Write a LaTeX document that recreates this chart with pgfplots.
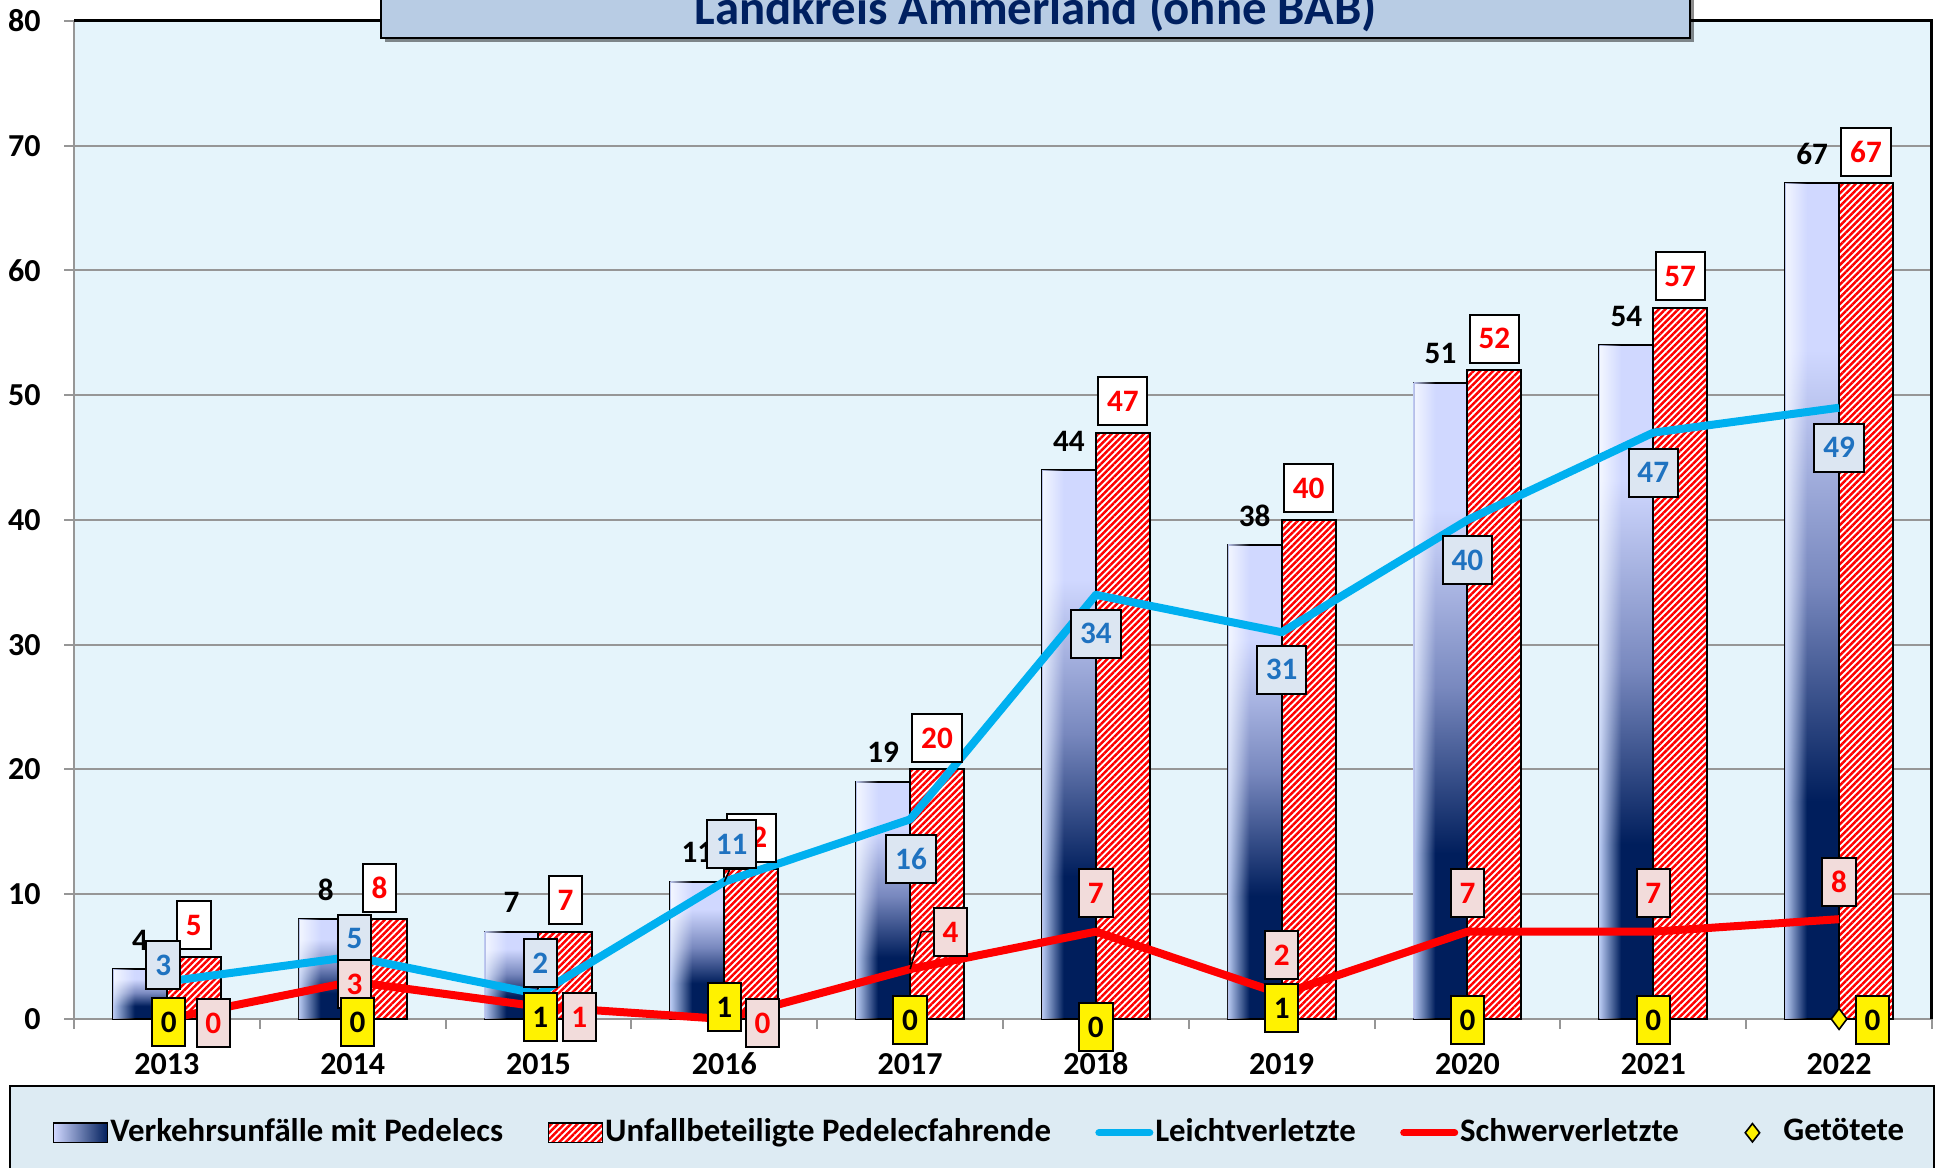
\documentclass[border=0pt]{standalone}
\usepackage{pgfplots}
\pgfplotsset{compat=1.18}
\usepackage{fontspec}
\setmainfont{Carlito}
\usetikzlibrary{patterns.meta,shadows}
\definecolor{bgblue}{RGB}{229,244,251}
\definecolor{barlight}{RGB}{208,216,255}
\definecolor{barmid}{RGB}{120,136,190}
\definecolor{navy}{RGB}{0,30,92}
\definecolor{glow}{RGB}{185,195,235}
\definecolor{lineblue}{RGB}{0,176,240}
\definecolor{labblue}{RGB}{31,114,192}
\definecolor{labblueb}{RGB}{220,230,242}
\definecolor{labpink}{RGB}{242,220,219}
\definecolor{titlebg}{RGB}{184,204,228}
\definecolor{titletext}{RGB}{0,32,96}
\definecolor{legbg}{RGB}{221,235,243}
\definecolor{gridgray}{RGB}{150,150,150}
\pgfdeclareverticalshading{barv}{100bp}{%
  color(0bp)=(navy); color(25bp)=(navy); color(38bp)=(navy); color(51bp)=(barmid); color(65bp)=(barlight); color(100bp)=(barlight)}
\pgfdeclarehorizontalshading{leftglow}{100bp}{%
  color(0bp)=(glow); color(25bp)=(glow); color(31bp)=(glow!70!black); color(45bp)=(black); color(100bp)=(black)}
\newcommand\lf{\bfseries\fontsize{7.8}{9}\selectfont}
\tikzset{
  lbox/.style={draw=black, line width=0.5pt, fill=labblueb, text=labblue, font=\lf, minimum height=12pt, inner xsep=2.2pt, inner ysep=0pt},
  sbox/.style={draw=black, line width=0.5pt, fill=labpink, text=red, font=\lf, minimum height=12pt, inner xsep=2.2pt, inner ysep=0pt},
  gbox/.style={draw=black, line width=0.5pt, fill=yellow, text=black, font=\lf, minimum height=12pt, inner xsep=2.2pt, inner ysep=0pt},
  redhatch/.style={fill=white, postaction={pattern={Lines[angle=45,distance=1.15pt,line width=0.62pt]}, pattern color=red}},
}
\pgfplotsset{
  bluebar/.style={ybar, bar width=0.29, bar shift=-0.145, draw=black, line width=0.5pt,
    shade, shading=barv, shading angle=0,
    postaction={shade, shading=leftglow, shading angle=0, blend mode=screen},
    nodes near coords, every node near coord/.append style={font=\lf, text=black, anchor=center, xshift=-6.74pt, yshift=7.3pt},
    forget plot},
}
\begin{document}
\begin{tikzpicture}
\draw[fill=legbg, line width=0.6pt] (2.5pt,20.5pt) rectangle (483.5pt,-10pt);
\begin{axis}[
  set layers=standard,
  at={(18.5pt,37.25pt)}, anchor=south west,
  scale only axis, width=464.5pt, height=249.5pt,
  xmin=-0.5, xmax=9.5, ymin=0, ymax=80,
  clip=false,
  /pgf/number format/assume math mode=true,
  axis background/.style={fill=bgblue},
  axis line style={gridgray, line width=0.5pt},
  ymajorgrids, grid style={gridgray, line width=0.5pt},
  xtick={0,...,9},
  xticklabels={2013,2014,2015,2016,2017,2018,2019,2020,2021,2022},
  ytick={0,10,...,80},
  minor xtick={-0.5,0.5,...,9.5},
  minor ytick={0,10,...,80},
  major tick length=0pt, minor tick length=2.5pt,
  tick align=outside, xtick pos=bottom, ytick pos=left,
  tick style={gridgray, line width=0.5pt},
  ticklabel style={font=\bfseries\fontsize{8}{9}\selectfont},
  xticklabel style={yshift=-5.2pt, text height=5.2pt, text depth=0pt},
  yticklabel style={xshift=-4.8pt},
  legend columns=5,
  legend style={at={(axis description cs:-0.0118,-0.114)}, anchor=west, draw=none, fill=none, inner sep=0pt,
    font=\bfseries\fontsize{8.2}{10}\selectfont,
    /tikz/every even column/.append style={column sep=10.6pt},
    nodes={inner sep=0.5pt}},
]
% Verkehrsunfaelle mit Pedelecs (one plot per bar, so that each bar gets its own gradient)
\addplot[bluebar] coordinates {(0,4)};
\addplot[bluebar] coordinates {(1,8)};
\addplot[bluebar] coordinates {(2,7)};
\addplot[bluebar] coordinates {(3,11)};
\addplot[bluebar] coordinates {(4,19)};
\addplot[bluebar] coordinates {(5,44)};
\addplot[bluebar] coordinates {(6,38)};
\addplot[bluebar] coordinates {(7,51)};
\addplot[bluebar] coordinates {(8,54)};
\addplot[bluebar] coordinates {(9,67)};
% Unfallbeteiligte Pedelecfahrende
\addplot[ybar, bar width=0.29, bar shift=0.145, draw=black, line width=0.5pt, redhatch,
  nodes near coords, every node near coord/.append style={font=\lf, text=red, draw=black, line width=0.5pt, fill=white, minimum height=12pt, inner xsep=2.2pt, inner ysep=0pt, anchor=center, xshift=6.74pt, yshift=7.9pt},
  forget plot]
  coordinates {(0,5) (1,8) (2,7) (3,12) (4,20) (5,47) (6,40) (7,52) (8,57) (9,67)};
% Leichtverletzte
\addplot[lineblue, line width=2pt, line join=round, forget plot]
  coordinates {(0,3) (1,5) (2,2) (3,11) (4,16) (5,34) (6,31) (7,40) (8,47) (9,49)};
% Schwerverletzte
\addplot[red, line width=2pt, line join=round, forget plot]
  coordinates {(0,0) (1,3) (2,1) (3,0) (4,4) (5,7) (6,2) (7,7) (8,7) (9,8)};
% Getoetete
\addplot[only marks, mark=diamond*, mark size=2.6pt, mark options={fill=yellow, draw=black, line width=0.4pt}, forget plot]
  coordinates {(0,0) (1,0) (2,1) (3,1) (4,0) (5,0) (6,1) (7,0) (8,0) (9,0)};
% plot area border top/right
\draw[black, line width=0.75pt] (rel axis cs:0,1) -- (rel axis cs:1,1) -- (rel axis cs:1,0);
\begin{pgfonlayer}{axis foreground}
% leader lines
\draw[black, line width=0.4pt] (axis cs:4,4) -- (axis cs:4.06,7.0) -- (axis cs:4.13,7.0);
\draw[black, line width=0.4pt] (axis cs:3,11) -- (axis cs:3.03,12);
% labels Leichtverletzte
\node[lbox] at (axis cs:-0.02,4.33) {3};
\node[lbox] at (axis cs:1.01,6.45) {5};
\node[lbox] at (axis cs:2.01,4.49) {2};
\node[lbox] at (axis cs:3.04,13.99) {11};
\node[lbox] at (axis cs:4.005,12.83) {16};
\node[lbox] at (axis cs:5.0,30.9) {34};
\node[lbox] at (axis cs:6.0,28.0) {31};
\node[lbox] at (axis cs:7.0,36.8) {40};
\node[lbox] at (axis cs:8.0,43.8) {47};
\node[lbox] at (axis cs:9.0,45.8) {49};
% labels Schwerverletzte
\node[sbox] at (axis cs:0.25,-0.36) {0};
\node[sbox] at (axis cs:1.01,2.8) {3};
\node[sbox] at (axis cs:2.22,0.12) {1};
\node[sbox] at (axis cs:3.206,-0.36) {0};
\node[sbox] at (axis cs:4.217,6.97) {4};
\node[sbox] at (axis cs:5.0,10.1) {7};
\node[sbox] at (axis cs:6.0,5.09) {2};
\node[sbox] at (axis cs:7.0,10.1) {7};
\node[sbox] at (axis cs:8.0,10.1) {7};
\node[sbox] at (axis cs:9.0,11.0) {8};
% labels Getoetete
\node[gbox] at (axis cs:0.01,-0.24) {0};
\node[gbox] at (axis cs:1.026,-0.24) {0};
\node[gbox] at (axis cs:2.01,0.12) {1};
\node[gbox] at (axis cs:3.0,0.96) {1};
\node[gbox] at (axis cs:4.0,-0.08) {0};
\node[gbox] at (axis cs:5.0,-0.68) {0};
\node[gbox] at (axis cs:6.0,0.88) {1};
\node[gbox] at (axis cs:7.0,-0.08) {0};
\node[gbox] at (axis cs:8.0,-0.08) {0};
\node[gbox] at (axis cs:9.18,-0.08) {0};
\end{pgfonlayer}
% legend
\addlegendimage{legend image code/.code={\draw[black, line width=0.4pt, left color=barlight, right color=navy] (0pt,-2.4pt) rectangle (13.5pt,2.4pt);}}
\addlegendentry{Verkehrsunfälle mit Pedelecs}
\addlegendimage{legend image code/.code={\draw[black, line width=0.4pt, redhatch] (0pt,-2.4pt) rectangle (13.5pt,2.4pt);}}
\addlegendentry{Unfallbeteiligte Pedelecfahrende}
\addlegendimage{legend image code/.code={\draw[lineblue, line width=1.8pt, line cap=round] (0.9pt,0pt) -- (13.6pt,0pt);}}
\addlegendentry{Leichtverletzte}
\addlegendimage{legend image code/.code={\draw[red, line width=1.8pt, line cap=round] (0.9pt,0pt) -- (13.6pt,0pt);}}
\addlegendentry{Schwerverletzte}
\addlegendimage{legend image code/.code={\path[draw=none, fill=none] (0pt,0pt) rectangle (14.5pt,0pt); \draw[black, fill=yellow, line width=0.4pt] (7.25pt,2.3pt) -- (9.05pt,0pt) -- (7.25pt,-2.3pt) -- (5.45pt,0pt) -- cycle;}}
\addlegendentry{Getötete}
\end{axis}
% title
\draw[fill=titlebg, line width=0.6pt, drop shadow={shadow xshift=1pt, shadow yshift=-1pt, fill=black, opacity=0.45}] (95.25pt,282.5pt) rectangle (422.5pt,310pt);
\node[anchor=base, font=\bfseries\fontsize{12.2}{14}\selectfont, text=titletext, inner sep=0pt] at (258.9pt,285.75pt) {Landkreis Ammerland (ohne BAB)};
\pgfresetboundingbox
\useasboundingbox (0,0) rectangle (485.5pt,292pt);
\end{tikzpicture}
\end{document}
